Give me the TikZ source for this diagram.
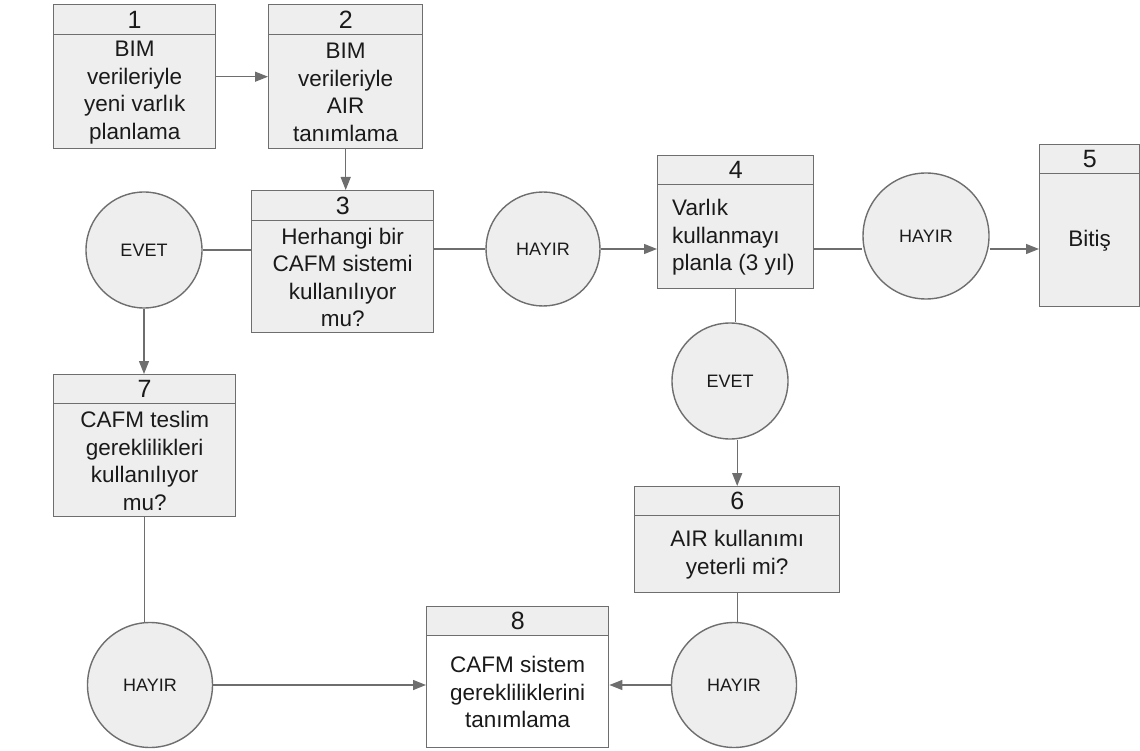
\documentclass[tikz,border=0pt]{standalone}
\usepackage{fontspec}
\setmainfont{Liberation Sans}
\usetikzlibrary{arrows.meta,calc}
\pgfdeclarelayer{background}
\pgfsetlayers{background,main}
\definecolor{edge}{HTML}{6E6E6E}
\definecolor{boxfill}{HTML}{EEEEEE}
\definecolor{ink}{HTML}{1A1A1A}
\tikzset{
  frame/.style={draw=edge, line width=1.4pt, fill=boxfill, inner sep=0pt, anchor=north west},
  head/.style={draw=edge, line width=1.4pt, fill=boxfill, inner sep=0pt, anchor=north west,
    minimum height=30pt, text=ink, font=\fontsize{25}{25}\selectfont},
  body/.style={align=center, inner sep=0pt, text=ink, font=\fontsize{22.5}{27.5}\selectfont},
  decision/.style={circle, draw=edge, line width=1.4pt, fill=boxfill, inner sep=0pt,
    text=ink, font=\fontsize{18}{18}\selectfont},
  link/.style={draw=edge, line width=1.4pt},
  flow/.style={link, -{Triangle[length=13pt,width=10pt]}},
}
\begin{document}
\begin{tikzpicture}[x=1pt,y=-1pt]
\useasboundingbox (0,0) rectangle (1140,751);

% process boxes: frame, numbered header, text
\node[frame, minimum width=162pt, minimum height=144pt] (b1) at (53,4) {};
\node[head, minimum width=162pt] (b1h) at (b1.north west) {1};
\node[body] (b1t) at ($(b1h.south)!0.5!(b1.south)$) {BIM\\verileriyle\\yeni varlık\\planlama};

\node[frame, minimum width=154pt, minimum height=144pt] (b2) at (268,4) {};
\node[head, minimum width=154pt] (b2h) at (b2.north west) {2};
\node[body] (b2t) at ($(b2h.south)!0.5!(b2.south)$) {BIM\\verileriyle\\AIR\\tanımlama};

\node[frame, minimum width=182pt, minimum height=142pt] (b3) at (251,190) {};
\node[head, minimum width=182pt] (b3h) at (b3.north west) {3};
\node[body] (b3t) at ($(b3h.south)!0.5!(b3.south)$) {Herhangi bir\\CAFM sistemi\\kullanılıyor\\mu?};

\node[frame, minimum width=156pt, minimum height=133pt] (b4) at (657,155) {};
\node[head, minimum width=156pt, minimum height=29pt] (b4h) at (b4.north west) {4};
\node[body, align=left, anchor=west] (b4t) at ($(b4h.south west)!0.5!(b4.south west)+(15,0)$) {Varlık\\kullanmayı\\planla (3 yıl)};

\node[frame, minimum width=100pt, minimum height=162pt] (b5) at (1039,144) {};
\node[head, minimum width=100pt, minimum height=29pt] (b5h) at (b5.north west) {5};
\node[body] (b5t) at ($(b5h.south)!0.5!(b5.south)$) {Bitiş};

\node[frame, minimum width=205pt, minimum height=106pt] (b6) at (634,486) {};
\node[head, minimum width=205pt, minimum height=29pt] (b6h) at (b6.north west) {6};
\node[body] (b6t) at ($(b6h.south)!0.5!(b6.south)$) {AIR kullanımı\\yeterli mi?};

\node[frame, minimum width=182pt, minimum height=142pt] (b7) at (53,374) {};
\node[head, minimum width=182pt, minimum height=29pt] (b7h) at (b7.north west) {7};
\node[body] (b7t) at ($(b7h.south)!0.5!(b7.south)$) {CAFM teslim\\gereklilikleri\\kullanılıyor\\mu?};

\node[frame, fill=white, minimum width=182pt, minimum height=141pt] (b8) at (426,606) {};
\node[head, minimum width=182pt, minimum height=29pt] (b8h) at (b8.north west) {8};
\node[body] (b8t) at ($(b8h.south)!0.5!(b8.south)$) {CAFM sistem\\gerekliliklerini\\tanımlama};

% decision circles
\node[decision, minimum size=116pt] (e1) at (144,250) {EVET};
\node[decision, minimum size=114pt] (h1) at (543,249) {HAYIR};
\node[decision, minimum size=126pt] (h2) at (926,236) {HAYIR};
\node[decision, minimum size=116pt] (e2) at (730,381) {EVET};
\node[decision, minimum size=125pt] (h3) at (734,685) {HAYIR};
\node[decision, minimum size=125pt] (h4) at (150,685) {HAYIR};

% connectors
\begin{pgfonlayer}{background}
\draw[flow] (b1.east) -- (b2.west);
\draw[flow] (b2.south) -- (b2.south |- b3.north);
\draw[link] (e1.east) -- (e1.east -| b3.west);
\draw[flow] (e1.south) -- (e1.south |- b7.north);
\draw[link] (b3.east |- h1.west) -- (h1.west);
\draw[flow] (h1.east) -- (h1.east -| b4.west);
\draw[link] (b4.east |- h1.west) -- (h2.west |- h1.west);
\draw[flow] (h2.east |- h1.west) -- (b5.west |- h1.west);
\draw[link] (b4.south) -- (b4.south |- e2.north);
\draw[flow] (b6.north |- e2.south) -- (b6.north);
\draw[link] (b6.south) -- (b6.south |- h3.north);
\draw[flow] (h3.west) -- (h3.west -| b8.east);
\draw[link] (b7.south) -- (b7.south |- h4.north);
\draw[flow] (h4.east) -- (h4.east -| b8.west);
\end{pgfonlayer}
\end{tikzpicture}
\end{document}
